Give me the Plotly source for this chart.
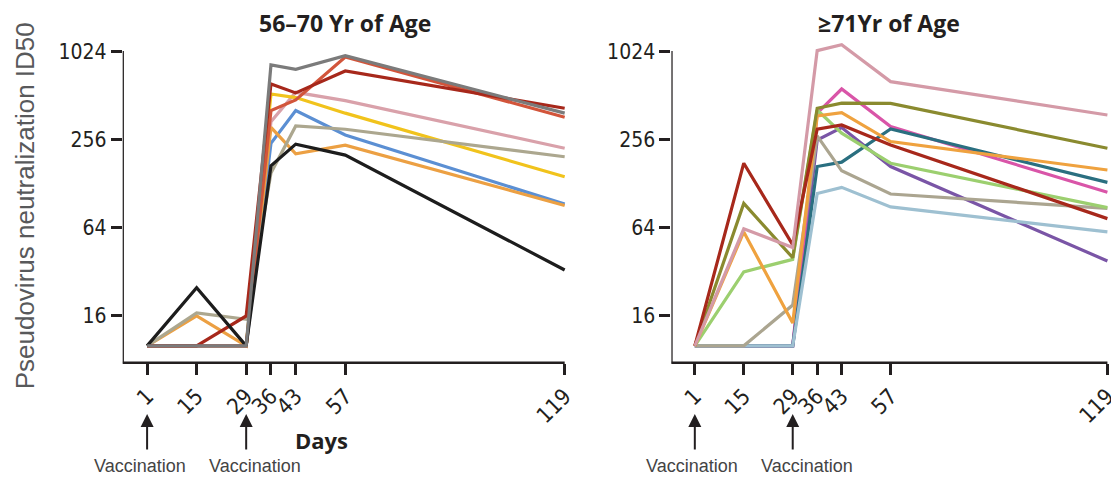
import plotly.graph_objects as go

# ---------------- data ----------------
days = [1, 15, 29, 36, 43, 57, 119]
tick_days = [1, 15, 29, 36, 43, 57, 119]
y_ticks = [16, 64, 256, 1024]
y_ticktext = ["16", "64", "256", "1024"]

# 56-70 yr panel
l_pink = [10, 10, 10, 340, 540, 474, 224]
l_yellow = [10, 10, 10, 526, 497, 389, 143]
l_blue = [10, 10, 10, 242, 405, 276, 93]
l_orange = [10, 16, 10, 311, 205, 235, 91]
l_tan = [10, 16.8, 15.2, 152, 318, 302, 196]
l_tomato = [10, 10, 10, 405, 479, 940, 365]
l_darkred = [10, 10, 16, 616, 535, 755, 420]
l_black = [10, 25, 10, 170, 239, 201, 33]
l_gray = [10, 10, 10, 830, 776, 961, 389]

# >=71 yr panel
r_purple = [10, 10, 10, 255, 310, 168, 38]
r_magenta = [10, 10, 10, 389, 569, 315, 112]
r_teal = [10, 10, 10, 168, 180, 303, 131]
r_lightblue = [10, 10, 10, 110, 121, 89, 60]
r_tan = [10, 10, 19, 272, 157, 109, 87]
r_green = [10, 32, 39, 409, 284, 177, 88]
r_orange = [10, 60, 14.3, 372, 392, 249, 159]
r_olive = [10, 94, 40, 420, 455, 454, 224]
r_darkred = [10, 177, 49, 302, 323, 236, 74]
r_pink = [10, 63, 47, 1041, 1143, 639, 378]

left_series = [
    (l_pink, "#d9a1aa"), (l_yellow, "#f1c31c"), (l_blue, "#5b8fd3"),
    (l_orange, "#eca043"), (l_tan, "#aca78f"), (l_tomato, "#d2553b"),
    (l_darkred, "#a7281b"), (l_black, "#1d1d1d"), (l_gray, "#7b7b7b"),
]
right_series = [
    (r_purple, "#7a55a6"), (r_magenta, "#d955a8"), (r_teal, "#2a6f80"),
    (r_lightblue, "#9ec0d1"), (r_tan, "#aba590"), (r_green, "#9ccf6f"),
    (r_orange, "#efa23f"), (r_olive, "#8a8a2f"), (r_darkred, "#a7281b"),
    (r_pink, "#d49aa7"),
]

OFF = 8  # page body margin offset
W, H = 1119 - OFF, 477 - OFF
AX = "#231f20"


def py(p):  # target pixel row -> paper y
    return 1 - (p - OFF) / H


def px(p):  # target pixel column -> paper x (small horizontal correction)
    p = p + (p - 123) * 0.006
    return (p - OFF) / W


fig = go.Figure()
for vals, col in left_series:
    fig.add_trace(go.Scatter(x=days, y=vals, mode="lines", xaxis="x", yaxis="y",
                             line=dict(color=col, width=3.2), showlegend=False,
                             hoverinfo="skip"))
for vals, col in right_series:
    fig.add_trace(go.Scatter(x=days, y=vals, mode="lines", xaxis="x2", yaxis="y2",
                             line=dict(color=col, width=3.2), showlegend=False,
                             hoverinfo="skip"))

ytop_px, ybot_px = 35, 362.7
yr = [0.8848, 3.124]
num_font = dict(family="Liberation Sans Narrow, DejaVu Sans Condensed, Arial Narrow, sans-serif",
                size=21, color=AX)
xnum_font = dict(num_font, size=22)

xcommon = dict(type="linear", showgrid=False, zeroline=False, showline=False,
               tickmode="array", tickvals=tick_days, ticktext=[str(d) for d in tick_days],
               ticks="outside", ticklen=11, tickwidth=2.5, tickcolor=AX,
               tickangle=-45, tickfont=xnum_font)
ycommon = dict(type="log", range=yr, showgrid=False, zeroline=False, showline=False,
               tickmode="array", tickvals=y_ticks, ticktext=y_ticktext,
               ticks="outside", ticklen=11, tickwidth=2.5, tickcolor=AX,
               tickfont=num_font, domain=[py(ybot_px), py(ytop_px)])

xd1 = [px(123.3), px(570)]
xd2 = [px(671.7), min(1.0, px(1117))]

fig.update_layout(
    width=W, height=H, margin=dict(l=0, r=0, t=0, b=0),
    paper_bgcolor="white", plot_bgcolor="white",
    xaxis=dict(xcommon, domain=xd1, range=[-5.9, 120.4], anchor="y"),
    yaxis=dict(ycommon, anchor="x"),
    xaxis2=dict(xcommon, domain=xd2, range=[-5.7, 120.6], anchor="y2"),
    yaxis2=dict(ycommon, anchor="x2"),
)

shapes = []
for xr, x0, xend in [("x", -5.9, 119), ("x2", -5.7, 119)]:
    shapes.append(dict(type="line", xref=xr, yref="paper", x0=x0, x1=xend,
                       y0=py(ybot_px), y1=py(ybot_px), line=dict(color=AX, width=2.5)))
    shapes.append(dict(type="line", xref=xr, yref="paper", x0=x0, x1=x0,
                       y0=py(ybot_px + 1), y1=py(51.0), line=dict(color=AX, width=2.5)))
fig.update_layout(shapes=shapes)

ann = []
title_font = dict(family="Open Sans, Lato, sans-serif", size=23, color="#231f20")
ann.append(dict(text="<b>56\u201370 Yr of Age</b>", xref="paper", yref="paper",
                x=px(345), y=py(23), showarrow=False, font=title_font,
                xanchor="center", yanchor="middle"))
ann.append(dict(text="<b>\u226571Yr of Age</b>", xref="paper", yref="paper",
                x=px(889), y=py(23), showarrow=False, font=title_font,
                xanchor="center", yanchor="middle"))
ann.append(dict(text="Pseudovirus neutralization ID50", xref="paper", yref="paper",
                x=px(26), y=py(206), showarrow=False, textangle=-90,
                font=dict(family="Liberation Sans, Arial, sans-serif", size=26, color="#58595b"),
                xanchor="center", yanchor="middle"))
ann.append(dict(text="<b>Days</b>", xref="paper", yref="paper",
                x=px(322), y=py(440), showarrow=False,
                font=dict(family="Open Sans, Lato, sans-serif", size=22, color="#231f20"),
                xanchor="center", yanchor="middle"))

vac_font = dict(family="Liberation Sans, Arial, sans-serif", size=18, color="#444444")
for xr, d, cx in [("x", 1, 141), ("x", 29, 256), ("x2", 1, 692), ("x2", 29, 807)]:
    ann.append(dict(text="", xref=xr, yref="paper", x=d, y=py(414),
                    ax=0, ay=37, axref="pixel", ayref="pixel", showarrow=True,
                    arrowhead=2, arrowsize=1.3, arrowwidth=2, arrowcolor=AX))
    ann.append(dict(text="Vaccination", xref="paper", yref="paper", x=px(cx), y=py(466),
                    showarrow=False, font=vac_font, xanchor="center", yanchor="middle"))
fig.update_layout(annotations=ann)

fig.write_html("out.html", config={"displayModeBar": False})
